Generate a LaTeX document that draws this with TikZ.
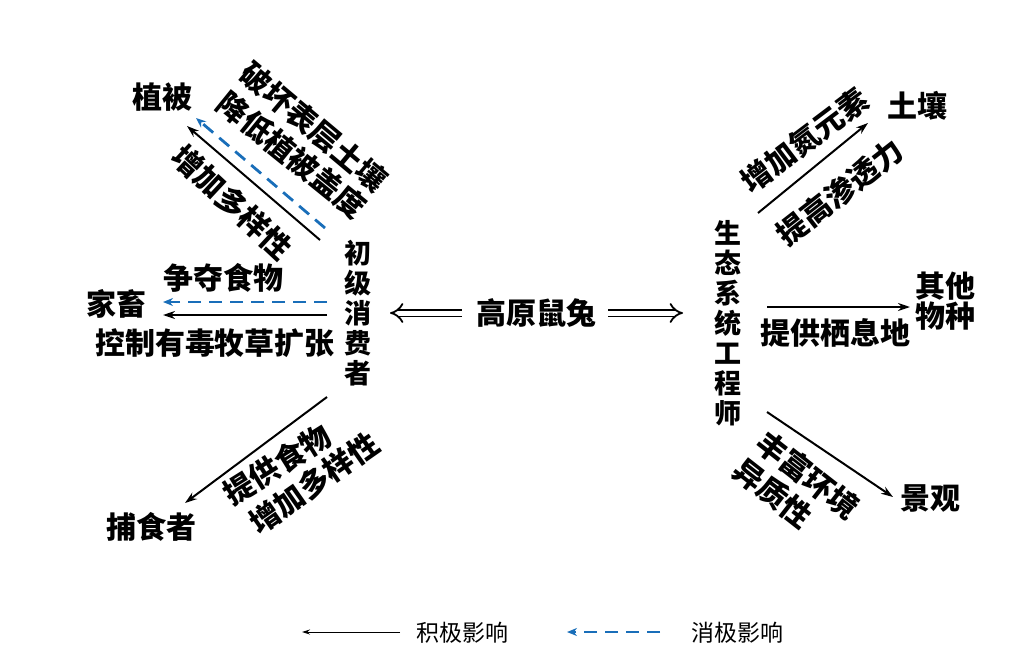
\documentclass[tikz,border=0pt]{standalone}
\usepackage{fontspec}
\usepackage{tikz}
\usetikzlibrary{positioning,arrows.meta}
\usepackage{xcolor}
\newfontfamily\cjk{Noto Sans CJK SC}
\definecolor{negblue}{RGB}{25,110,185}

\begin{document}
\begin{tikzpicture}[x=1pt,y=-1pt,
    lbl/.style={font=\cjk\bfseries\fontsize{30}{30}\selectfont, inner sep=1pt},
    vlbl/.style={lbl, align=center, font=\cjk\bfseries\fontsize{27}{30}\selectfont},
    keytext/.style={font=\cjk\fontsize{23}{25}\selectfont, inner sep=1pt},
    posarrow/.style={line width=2pt, -{Stealth[length=12pt,width=8pt]}},
    negarrow/.style={draw=negblue, line width=2.8pt, dash pattern=on 13pt off 8pt, -{Stealth[length=10pt,width=8pt]}},
    dblarrow/.style={double, double distance=5pt, line width=1.8pt, -{Implies}}]
        \useasboundingbox (0,0) rectangle (1021,665);

        % Centre
        \node[lbl] (pika) at (536,313) {高原鼠兔};
        \node[vlbl] (consumer) at (358,313) {初\\级\\消\\费\\者};
        \node[vlbl] (engineer) at (728,323) {生\\态\\系\\统\\工\\程\\师};
        \coordinate (pikaL) at (462,313);
        \coordinate (pikaLe) at (390,313);
        \coordinate (pikaR) at (608,313);
        \coordinate (pikaRe) at (683,313);
        \draw[dblarrow] (pikaL) -- (pikaLe);
        \draw[dblarrow] (pikaR) -- (pikaRe);

        % Left: primary consumer
        \node[lbl] (veg) at (162,97) {植被};
        \node[lbl, rotate=-40] at (314,127) {破坏表层土壤};
        \node[lbl, rotate=-39] at (292,155) {降低植被盖度};
        \node[lbl, rotate=-43] at (232,202) {增加多样性};
        \coordinate (vegN) at (325,228);
        \coordinate (vegNe) at (196,118);
        \coordinate (vegP) at (320,240);
        \coordinate (vegPe) at (187,126);
        \draw[negarrow] (vegN) -- (vegNe);
        \draw[posarrow] (vegP) -- (vegPe);

        \node[lbl] (stock) at (116,304) {家畜};
        \node[lbl] at (223,278) {争夺食物};
        \node[lbl] at (215,343) {控制有毒牧草扩张};
        \coordinate (stockN) at (327,302);
        \coordinate (stockNe) at (163,302);
        \coordinate (stockP) at (327,315);
        \coordinate (stockPe) at (163,315);
        \draw[negarrow] (stockN) -- (stockNe);
        \draw[posarrow] (stockP) -- (stockPe);

        \node[lbl] (pred) at (151,527) {捕食者};
        \node[lbl, rotate=32] at (277,465) {提供食物};
        \node[lbl, rotate=35] at (314,483) {增加多样性};
        \coordinate (predP) at (327,397);
        \coordinate (predPe) at (185,503);
        \draw[posarrow] (predP) -- (predPe);

        % Right: ecosystem engineer
        \node[lbl] (soil) at (917,106) {土壤};
        \node[lbl, rotate=37] at (805,140) {增加氮元素};
        \node[lbl, rotate=38] at (840,192) {提高渗透力};
        \coordinate (soilP) at (758,213);
        \coordinate (soilPe) at (868,123);
        \draw[posarrow] (soilP) -- (soilPe);

        \node[lbl, align=center] (species) at (945,301) {其他\\物种};
        \node[lbl] at (835,333) {提供栖息地};
        \coordinate (specP) at (767,307);
        \coordinate (specPe) at (910,307);
        \draw[posarrow] (specP) -- (specPe);

        \node[lbl] (land) at (930,498) {景观};
        \node[lbl, rotate=-38] at (808,475) {丰富环境};
        \node[lbl, rotate=-38] at (773,493) {异质性};
        \coordinate (landP) at (767,412);
        \coordinate (landPe) at (893,497);
        \draw[posarrow] (landP) -- (landPe);

        % Key
        \node[keytext] (posKey) at (462,633) {积极影响};
        \node[keytext] (negKey) at (737,633) {消极影响};
        \coordinate (posA) at (400,632);
        \coordinate (posB) at (302,632);
        \coordinate (negA) at (660,632);
        \coordinate (negB) at (567,632);
        \draw[line width=0.9pt, -{Stealth[length=8pt,width=5pt]}] (posA) -- (posB);
        \draw[negarrow, line width=2.6pt] (negA) -- (negB);
    \end{tikzpicture}
\end{document}
